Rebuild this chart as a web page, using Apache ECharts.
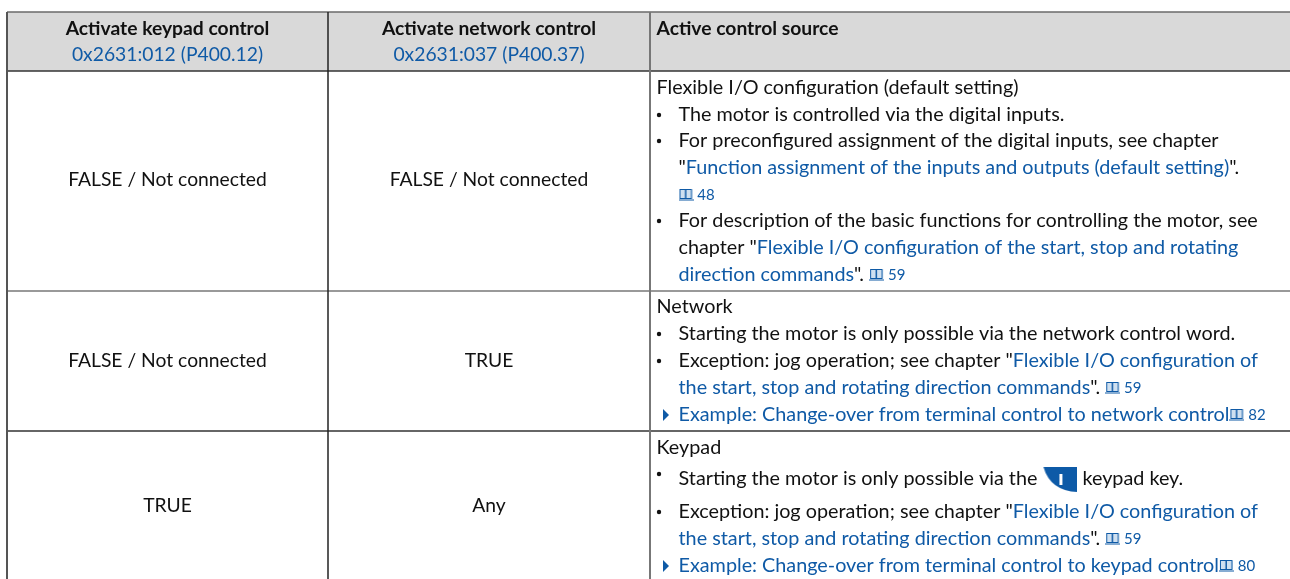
<!DOCTYPE html>
<html>
<head>
<meta charset="utf-8">
<style>html,body{margin:0;padding:0;background:#fff}#main{width:1290px;height:579px}</style>
<script src="https://cdn.jsdelivr.net/npm/echarts@6/dist/echarts.min.js"></script>
</head>
<body>
<div id="main"></div>
<script>
var BLUE = '#0f5aa6', INK = '#111111'

// table content
var headerTitles = ['Activate keypad control', 'Activate network control']
var headerRefs = ['0x2631:012 (P400.12)', '0x2631:037 (P400.37)']
var keypadValues = ['FALSE / Not connected', 'FALSE / Not connected', 'TRUE']
var networkValues = ['FALSE / Not connected', 'TRUE', 'Any']
var sourceTitle = 'Active control source'
// {u|..} link text, {i| } book icon, {n|..} page number, {k| } keypad key
var sourceLines = [
  'Flexible I/O configuration (default setting)',
  'The motor is controlled via the digital inputs.',
  'For preconfigured assignment of the digital inputs, see chapter',
  '"{u|Function assignment of the inputs and outputs (default setting)}".',
  '{i| }{n| 48}',
  'For description of the basic functions for controlling the motor, see',
  'chapter "{u|Flexible I/O configuration of the start, stop and rotating}',
  '{u|direction commands}". {i| }{n| 59}',
  'Network',
  'Starting the motor is only possible via the network control word.',
  'Exception: jog operation; see chapter "{u|Flexible I/O configuration of}',
  '{u|the start, stop and rotating direction commands}". {i| }{n| 59}',
  '{u|Example: Change-over from terminal control to network control}{i| }{n| 82}',
  'Keypad',
  'Starting the motor is only possible via the {k| } keypad key.',
  'Exception: jog operation; see chapter "{u|Flexible I/O configuration of}',
  '{u|the start, stop and rotating direction commands}". {i| }{n| 59}',
  '{u|Example: Change-over from terminal control to keypad control}{i| }{n| 80}'
]
// 0 plain, 1 bullet, 2 continuation of bullet, 3 arrow link
var sourceKinds = [0, 1, 1, 2, 2, 1, 2, 2, 0, 1, 1, 2, 3, 0, 1, 1, 2, 3]

// layout of the sheet, in pixels of the 1290x579 picture
var colEdges = [7, 328, 650, 1290]
var rowEdges = [12, 71, 291, 431, 579]
var colColors = ['#555555', '#222222', '#777777']
var colWidths = [2, 1.5, 2]
var rowColors = ['#6a6a6a', '#333333', '#777777', '#333333']
var rowWidths = [1.5, 1.5, 1.6, 1.5]
var headerLineY = [29, 55]
var rowCenterY = [180, 361, 506]
var sourceLineY = [88, 115, 141, 168, 195, 221, 248, 275, 307, 334, 361, 388, 415, 448, 479, 512, 539, 566]
var FONT = 'Lato', SIZE = 19.8, CENTER_SIZE = 19.3

function makeIcon(w, h, draw) {
  var c = document.createElement('canvas')
  c.width = w
  c.height = h
  draw(c.getContext('2d'))
  return c
}
var bookIcon = makeIcon(15, 12, function (g) {
  g.strokeStyle = BLUE
  g.fillStyle = '#cfe0f0'
  g.lineWidth = 1
  g.fillRect(1, 1, 13, 8)
  g.strokeRect(1.5, 0.5, 5.5, 9)
  g.strokeRect(7.5, 0.5, 5.5, 9)
  g.beginPath()
  g.moveTo(0, 11)
  g.lineTo(15, 11)
  g.stroke()
})
var keyIcon = makeIcon(35, 26, function (g) {
  g.fillStyle = '#0d5aa7'
  g.beginPath()
  g.moveTo(1, 1)
  g.lineTo(35, 1)
  g.lineTo(35, 26)
  g.quadraticCurveTo(8, 25, 1, 1)
  g.fill()
  g.fillStyle = '#fff'
  g.fillRect(17, 8, 3, 11)
})

var richStyles = {
  u: { fontFamily: FONT, fontSize: SIZE, fill: BLUE },
  n: { fontFamily: FONT, fontSize: 15, fill: BLUE },
  i: { width: 15, height: 12, backgroundColor: { image: bookIcon } },
  k: { width: 35, height: 26, backgroundColor: { image: keyIcon } }
}

// grey header band plus the rules of the table
function frameItem(params, api) {
  var a = api.coord([colEdges[0], rowEdges[0]])
  var b = api.coord([colEdges[3], rowEdges[1]])
  var children = [{
    type: 'rect',
    shape: { x: a[0], y: a[1], width: b[0] - a[0], height: b[1] - a[1] },
    style: { fill: '#d9d9d9' }
  }]
  rowEdges.slice(0, 4).forEach(function (y, r) {
    var p0 = api.coord([colEdges[0], y]), p1 = api.coord([colEdges[3], y])
    children.push({
      type: 'line',
      shape: { x1: p0[0], y1: p0[1], x2: p1[0], y2: p1[1] },
      style: { stroke: rowColors[r], lineWidth: rowWidths[r] }
    })
  })
  colEdges.slice(0, 3).forEach(function (x, c) {
    var p0 = api.coord([x, rowEdges[0]]), p1 = api.coord([x, rowEdges[4]])
    children.push({
      type: 'line',
      shape: { x1: p0[0], y1: p0[1], x2: p1[0], y2: p1[1] },
      style: { stroke: colColors[c], lineWidth: colWidths[c] }
    })
  })
  return { type: 'group', children: children }
}

function centerItem(params, api) {
  var it = centerTexts[params.dataIndex]
  var p = api.coord([(colEdges[it.col] + colEdges[it.col + 1]) / 2, it.y])
  return {
    type: 'text',
    x: p[0],
    y: p[1],
    style: {
      text: it.text,
      fontFamily: FONT,
      fontSize: CENTER_SIZE,
      fontWeight: it.bold ? 'bold' : 'normal',
      fill: it.blue ? BLUE : INK,
      align: 'center',
      verticalAlign: 'middle'
    }
  }
}

function sourceItem(params, api) {
  var i = params.dataIndex
  var kind = sourceKinds[i]
  var y = sourceLineY[i]
  var p = api.coord([kind === 0 ? 656.5 : 678.5, y])
  var children = [{
    type: 'text',
    x: p[0],
    y: p[1],
    style: {
      text: sourceLines[i],
      rich: richStyles,
      fontFamily: FONT,
      fontSize: SIZE,
      fill: INK,
      verticalAlign: 'middle'
    }
  }]
  if (kind === 1) {
    var b = api.coord([659, i === 14 ? y - 5 : y])
    children.push({ type: 'circle', shape: { cx: b[0], cy: b[1], r: 2.2 }, style: { fill: INK } })
  }
  if (kind === 3) {
    var a = api.coord([663, y])
    children.push({
      type: 'polygon',
      shape: { points: [[a[0], a[1] - 6], [a[0] + 6, a[1]], [a[0], a[1] + 6]] },
      style: { fill: BLUE }
    })
  }
  return { type: 'group', children: children }
}

var centerTexts = []
headerTitles.forEach(function (t, c) {
  centerTexts.push({ col: c, y: headerLineY[0], text: t, bold: true })
  centerTexts.push({ col: c, y: headerLineY[1], text: headerRefs[c], blue: true })
})
keypadValues.forEach(function (t, r) { centerTexts.push({ col: 0, y: rowCenterY[r], text: t }) })
networkValues.forEach(function (t, r) { centerTexts.push({ col: 1, y: rowCenterY[r], text: t }) })

var chart = echarts.init(document.getElementById('main'), null, { renderer: 'canvas' })
chart.setOption({
  animation: false,
  backgroundColor: '#fff',
  grid: { left: 0, right: 0, top: 0, bottom: 0 },
  xAxis: { type: 'value', min: 0, max: 1290, show: false },
  yAxis: { type: 'value', min: 0, max: 579, inverse: true, show: false },
  series: [
    { type: 'custom', coordinateSystem: 'cartesian2d', renderItem: frameItem, data: [[0]], silent: true },
    { type: 'custom', coordinateSystem: 'cartesian2d', renderItem: centerItem, data: centerTexts.map(function (t, i) { return [i] }), silent: true },
    { type: 'custom', coordinateSystem: 'cartesian2d', renderItem: sourceItem, data: sourceLines.map(function (t, i) { return [i] }), silent: true },
    {
      type: 'custom',
      coordinateSystem: 'cartesian2d',
      silent: true,
      data: [[0]],
      renderItem: function (params, api) {
        var p = api.coord([656.5, headerLineY[0]])
        return {
          type: 'text',
          x: p[0],
          y: p[1],
          style: { text: sourceTitle, fontFamily: FONT, fontSize: CENTER_SIZE, fontWeight: 'bold', fill: INK, verticalAlign: 'middle' }
        }
      }
    }
  ]
})
</script>
</body>
</html>
